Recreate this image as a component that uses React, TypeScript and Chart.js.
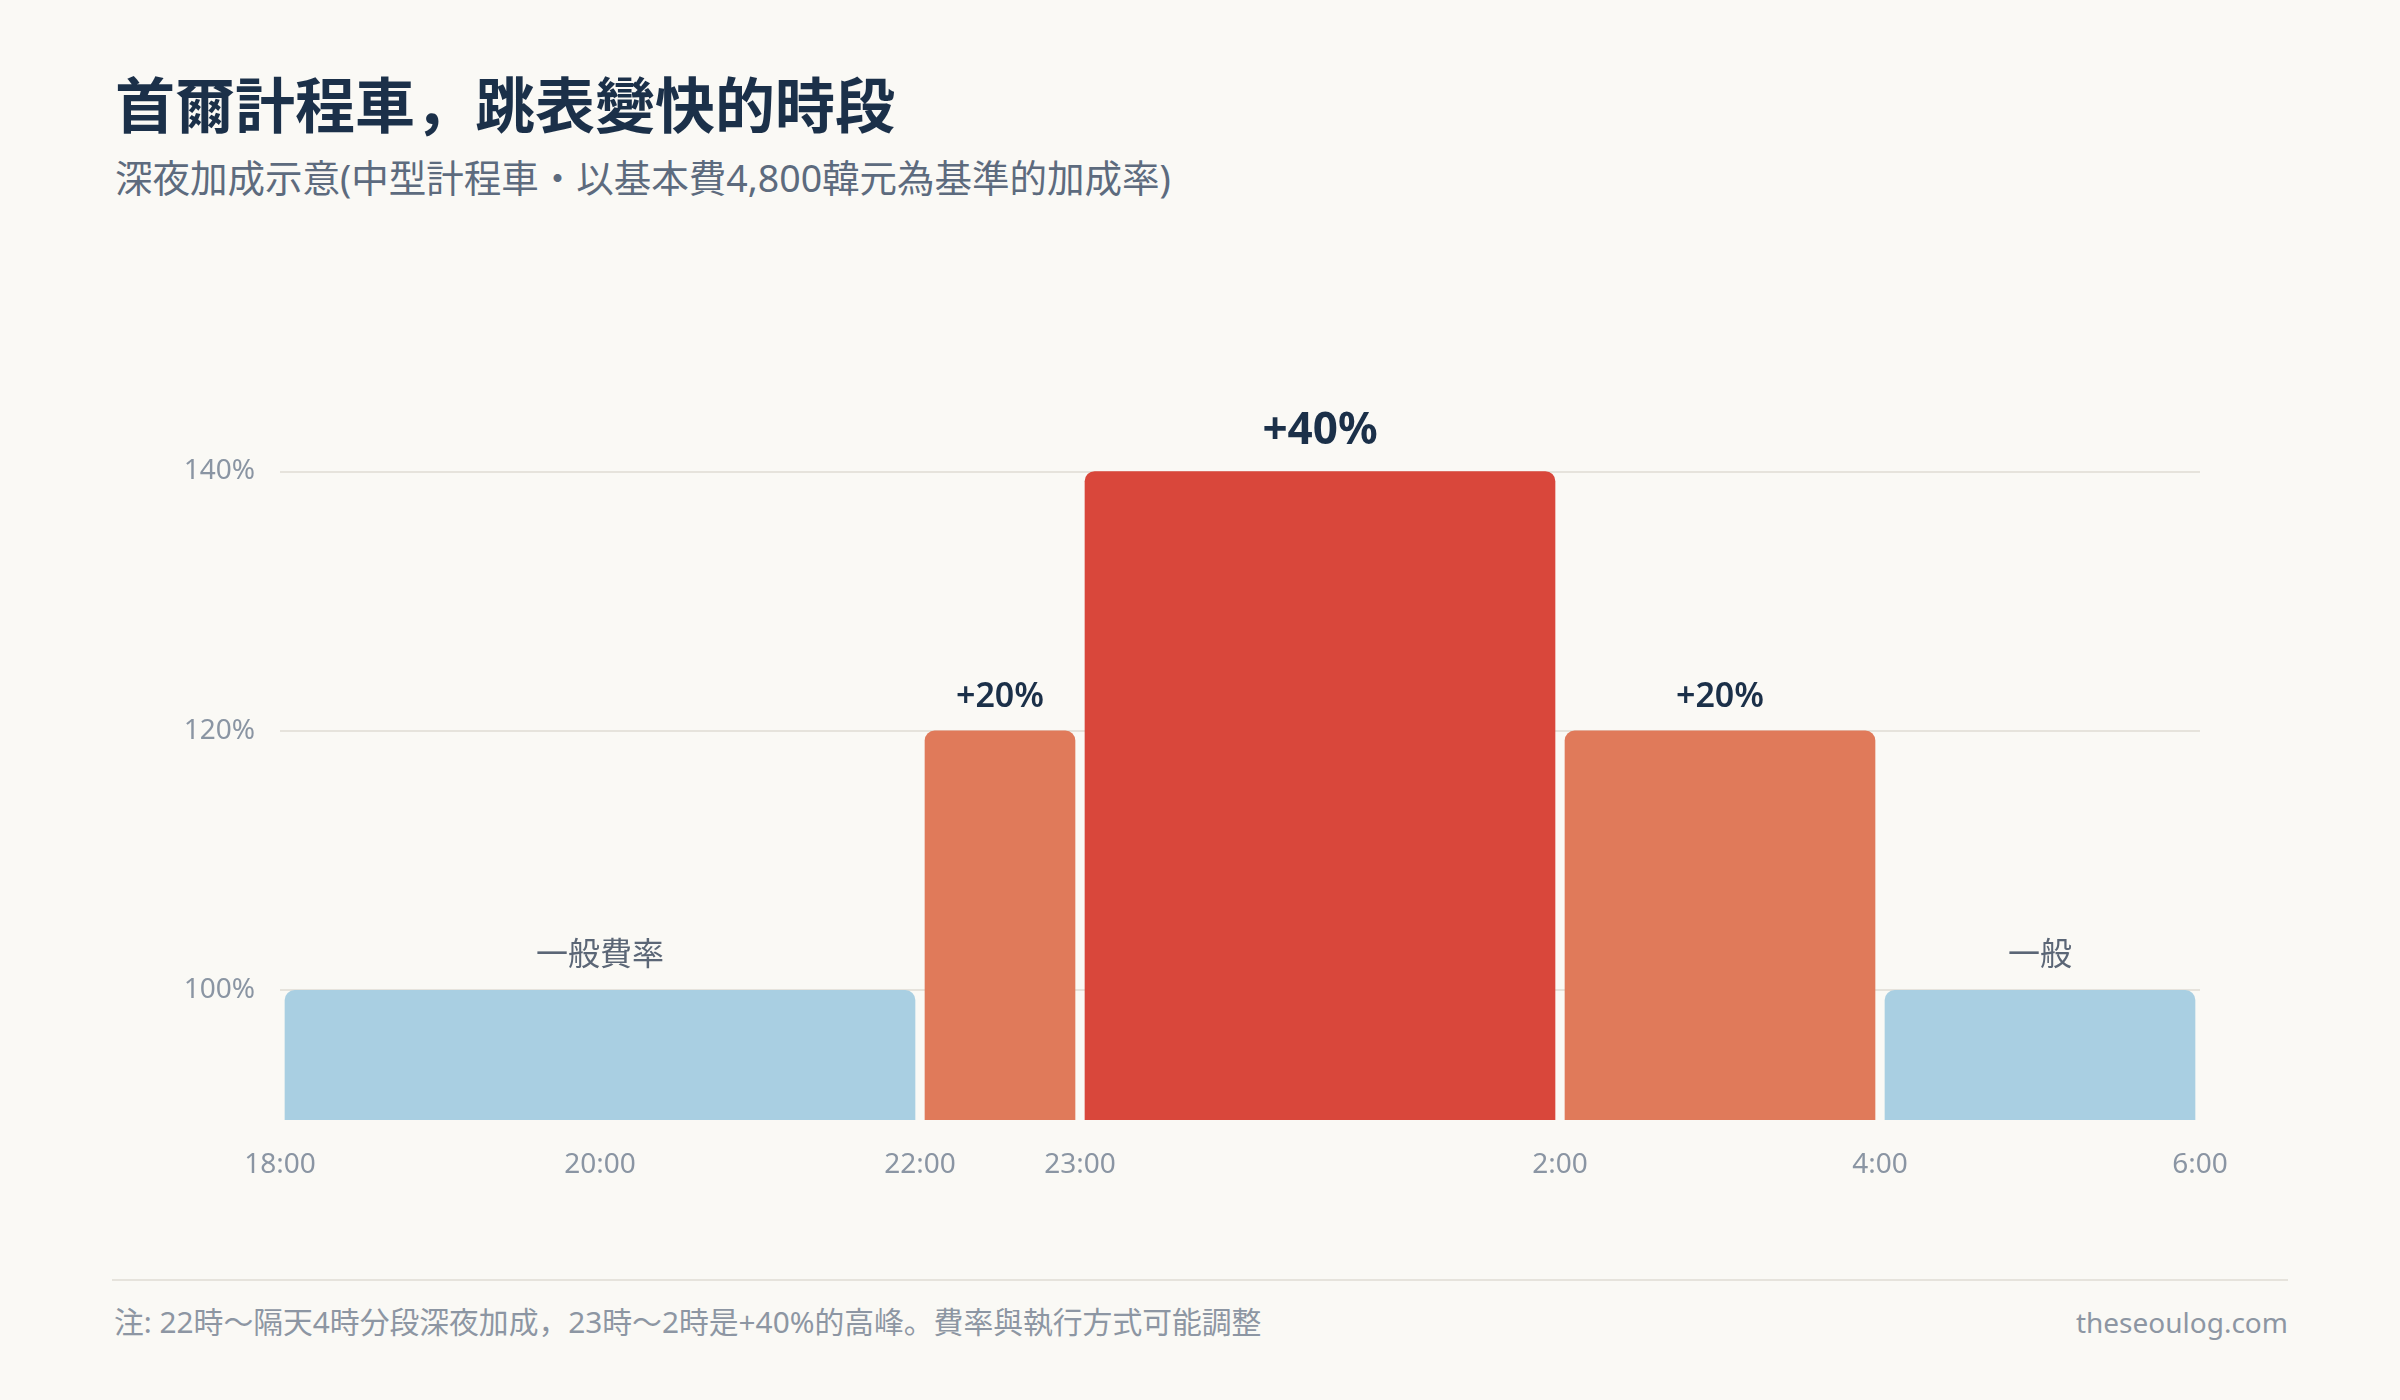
import React, { useEffect, useRef } from 'react';
import { Chart, registerables } from 'chart.js';

Chart.register(...registerables);

// ---- data ----
const segmentStart = [18, 22, 23, 26, 28];
const segmentEnd = [22, 23, 26, 28, 30];
const rateValues = [100, 120, 140, 120, 100];
const segmentLabels = ['一般費率', '+20%', '+40%', '+20%', '一般'];
const xTickHours = [18, 20, 22, 23, 26, 28, 30];
const yTickValues = [100, 120, 140];

// ---- styles ----
const FONT = "'Noto Sans', 'Noto Sans CJK JP', sans-serif";
const BG = '#faf9f5';
const NAVY = '#1b3049';
const colorFor = (v: number) => (v >= 140 ? '#d9473b' : v > 100 ? '#e07a5a' : '#a9cfe2');

const spanPlugin = {
  id: 'spanBars',
  beforeDatasetsDraw(chart: any) {
    const xs = chart.scales.x;
    const meta = chart.getDatasetMeta(0);
    meta.data.forEach((el: any, i: number) => {
      const x0 = xs.getPixelForValue(segmentStart[i]);
      const x1 = xs.getPixelForValue(segmentEnd[i]);
      el.x = (x0 + x1) / 2;
      el.width = x1 - x0 - 10;
    });
  },
  afterDatasetsDraw(chart: any) {
    const ctx = chart.ctx;
    const meta = chart.getDatasetMeta(0);
    meta.data.forEach((el: any, i: number) => {
      const v = rateValues[i];
      let font = `400 32px ${FONT}`;
      let color = '#5b6676';
      let offset = 34;
      if (v >= 140) {
        font = `700 44px ${FONT}`;
        color = NAVY;
        offset = 40;
      } else if (v > 100) {
        font = `600 34px ${FONT}`;
        color = NAVY;
        offset = 34;
      }
      ctx.save();
      ctx.font = font;
      ctx.fillStyle = color;
      ctx.textAlign = 'center';
      ctx.textBaseline = 'middle';
      ctx.fillText(segmentLabels[i], el.x, el.y - offset);
      ctx.restore();
    });
  },
};

function TaxiChart() {
  const ref = useRef<HTMLCanvasElement | null>(null);
  useEffect(() => {
    if (!ref.current) return;
    const chart = new Chart(ref.current, {
      type: 'bar',
      data: {
        datasets: [
          {
            data: segmentStart.map((s, i) => ({ x: (s + segmentEnd[i]) / 2, y: rateValues[i] })),
            backgroundColor: rateValues.map(colorFor),
            borderRadius: 10,
            borderSkipped: false,
            barPercentage: 1,
            categoryPercentage: 1,
          } as any,
        ],
      },
      options: {
        animation: false,
        responsive: false,
        devicePixelRatio: 1,
        layout: { padding: { left: 0, right: 200, top: 40, bottom: 0 } },
        plugins: { legend: { display: false }, tooltip: { enabled: false } },
        scales: {
          x: {
            type: 'linear',
            min: 18,
            max: 30,
            offset: false,
            grid: { display: false, drawTicks: false },
            border: { display: false },
            afterBuildTicks: (s: any) => {
              s.ticks = xTickHours.map((v) => ({ value: v }));
            },
            afterFit: (s: any) => {
              s.height = 80;
            },
            ticks: {
              autoSkip: false,
              maxRotation: 0,
              padding: 28,
              color: '#8a95a3',
              font: { family: FONT, size: 28 },
              callback: (v: any) => `${Number(v) % 24}:00`,
            },
          },
          y: {
            min: 90,
            max: 150,
            grid: { color: '#e6e3dc', lineWidth: 2, drawTicks: false },
            border: { display: false },
            afterBuildTicks: (s: any) => {
              s.ticks = yTickValues.map((v) => ({ value: v }));
            },
            afterFit: (s: any) => {
              s.width = 280;
            },
            ticks: {
              padding: 25,
              color: '#8a95a3',
              font: { family: FONT, size: 28 },
              callback: (v: any) => `${v}%`,
            },
          },
        },
      } as any,
      plugins: [spanPlugin],
    });
    return () => chart.destroy();
  }, []);
  return (
    <canvas
      ref={ref}
      width={2400}
      height={900}
      style={{ position: 'absolute', left: 0, top: 300, width: 2400, height: 900 }}
    />
  );
}

export default function App() {
  useEffect(() => {
    document.body.style.margin = '0';
    document.body.style.background = BG;
  }, []);
  return (
    <div
      style={{
        position: 'absolute',
        left: 0,
        top: 0,
        width: 2400,
        height: 1400,
        background: BG,
        fontFamily: FONT,
        overflow: 'hidden',
      }}
    >
      <div
        style={{
          position: 'absolute',
          left: 115,
          top: 75,
          fontSize: 60,
          lineHeight: 1,
          fontWeight: 700,
          color: NAVY,
          whiteSpace: 'nowrap',
        }}
      >
        首爾計程車，跳表變快的時段
      </div>
      <div
        style={{
          position: 'absolute',
          left: 115,
          top: 159,
          fontSize: 37.5,
          lineHeight: 1,
          fontWeight: 400,
          color: '#5d6b7e',
          whiteSpace: 'nowrap',
        }}
      >
        深夜加成示意(中型計程車・以基本費4,800韓元為基準的加成率)
      </div>
      <TaxiChart />
      <div
        style={{
          position: 'absolute',
          left: 112,
          top: 1279,
          width: 2176,
          height: 2,
          background: '#e6e3dc',
        }}
      />
      <div
        style={{
          position: 'absolute',
          left: 114,
          top: 1307,
          fontSize: 29.8,
          lineHeight: 1,
          color: '#8d96a3',
          whiteSpace: 'nowrap',
        }}
      >
        注: 22時～隔天4時分段深夜加成，23時～2時是+40%的高峰。費率與執行方式可能調整
      </div>
      <div
        style={{
          position: 'absolute',
          right: 112,
          top: 1308,
          fontSize: 28,
          lineHeight: 1,
          color: '#8d96a3',
          whiteSpace: 'nowrap',
        }}
      >
        theseoulog.com
      </div>
    </div>
  );
}
